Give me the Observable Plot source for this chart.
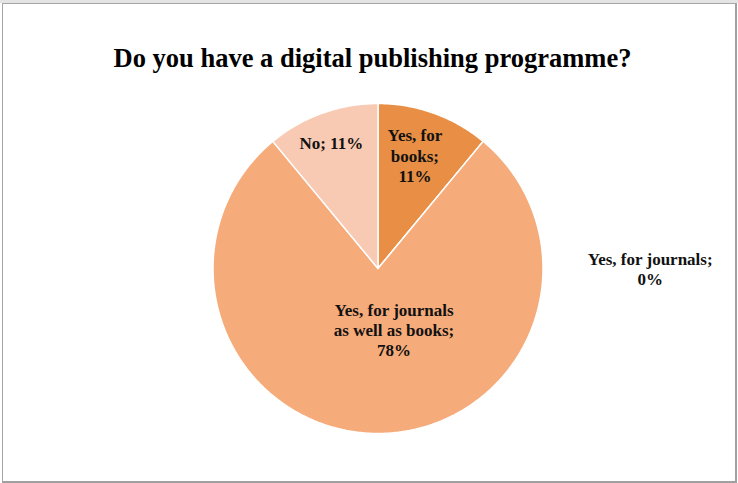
<!DOCTYPE html>
<html>
<head>
<meta charset="utf-8">
<script src="https://cdn.jsdelivr.net/npm/d3@7"></script>
<script src="https://cdn.jsdelivr.net/npm/@observablehq/plot@0.6"></script>
<style>
  html, body { margin: 0; padding: 0; background: #ffffff; }
  #wrap { position: relative; width: 738px; height: 483px; overflow: hidden; background: #ffffff; }
  #topband { position: absolute; left: 0; top: 0; width: 738px; height: 3px; background: #e4e4e4; }
  #border { position: absolute; left: 2px; top: 3px; width: 732px; height: 477px; border: 1px solid #a6a6a6; border-right: 2px solid #a0a0a0; border-bottom: 2px solid #a0a0a0; pointer-events: none; }
  #chart { position: absolute; left: 0; top: 0; }
</style>
</head>
<body>
<div id="wrap">
  <div id="topband"></div>
  <div id="chart"></div>
  <div id="border"></div>
</div>
<script>
const title = "Do you have a digital publishing programme?";
const categories = ["Yes, for books", "Yes, for journals", "Yes, for journals as well as books", "No"];
const values = [11, 0, 78, 11];
const labelTexts = ["Yes, for\nbooks;\n11%", "Yes, for journals;\n0%", "Yes, for journals\nas well as books;\n78%", "No; 11%"];
const colors = ["#E88E45", "#F4A36E", "#F6AB7A", "#F9CAB3"];

const W = 738, H = 483;
const cx = 377.5, cy = 268, R = 165;

const rows = categories.map((c, i) => ({category: c, value: values[i], label: labelTexts[i]}));
const arcs = d3.pie().sort(null).value(d => d.value)(rows);

// polygon outline of each slice in unit-radius data coordinates (y up)
const slicePts = [];
for (const a of arcs) {
  const n = Math.max(2, Math.ceil((a.endAngle - a.startAngle) / 0.01));
  slicePts.push({category: a.data.category, x: 0, y: 0});
  for (let k = 0; k <= n; k++) {
    const t = a.startAngle + (a.endAngle - a.startAngle) * k / n;
    slicePts.push({category: a.data.category, x: Math.sin(t), y: Math.cos(t)});
  }
}

function centroid(a, r) {
  const m = (a.startAngle + a.endAngle) / 2;
  return {x: r * Math.sin(m), y: r * Math.cos(m), label: a.data.label};
}
const labelFont = {fontFamily: "Liberation Serif", fontWeight: "bold", fontSize: 17, lineHeight: 1.2, fill: "#111", textAnchor: "middle", lineAnchor: "middle"};

const chart = Plot.plot({
  width: W, height: H,
  margin: 0,
  x: {domain: [-cx / R, (W - cx) / R], axis: null},
  y: {domain: [(cy - H) / R, cy / R], axis: null},
  color: {domain: categories, range: colors},
  style: {background: "transparent", overflow: "visible"},
  marks: [
    Plot.line(slicePts, {x: "x", y: "y", z: "category", fill: "category", stroke: "white", strokeWidth: 1.5, strokeLinejoin: "round", curve: "linear-closed"}),
    Plot.text([centroid(arcs[0], 0.75)], {x: "x", y: "y", text: "label", ...labelFont, dx: -5, dy: 3}),
    Plot.text([centroid(arcs[3], 0.8)], {x: "x", y: "y", text: "label", ...labelFont, dx: -2, dy: -2}),
    Plot.text([centroid(arcs[2], 0.37)], {x: "x", y: "y", text: "label", ...labelFont, dx: 16, dy: 0}),
    Plot.text([centroid(arcs[1], 1.0)], {x: "x", y: "y", text: "label", ...labelFont, dx: 167, dy: 127}),
    Plot.text([title], {frameAnchor: "top", dy: 58, dx: 3, lineAnchor: "middle", fontFamily: "Liberation Serif", fontWeight: "bold", fontSize: 26.5, fill: "#000"})
  ]
});
document.getElementById("chart").appendChild(chart);
</script>
</body>
</html>
